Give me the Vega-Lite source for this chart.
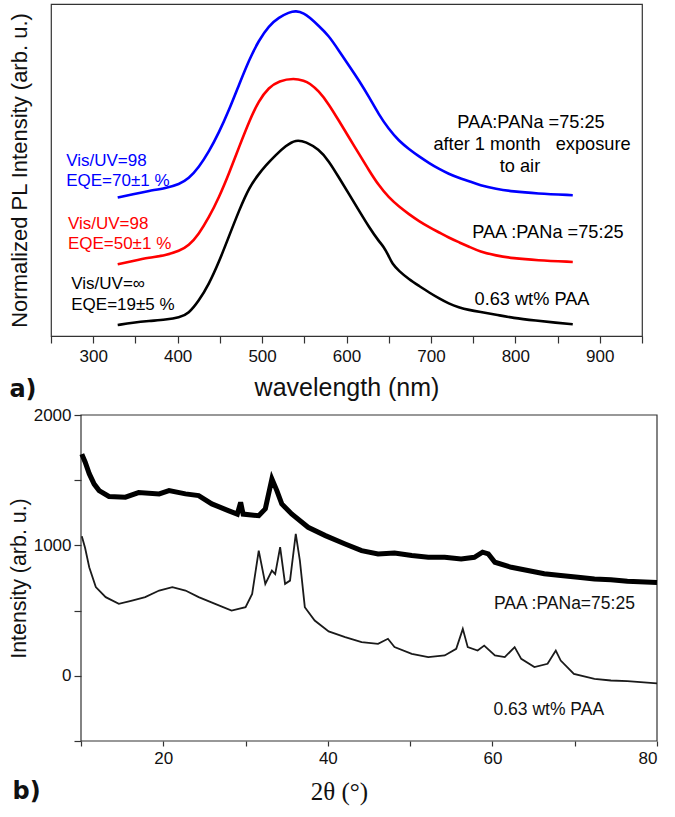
{
  "$schema": "https://vega.github.io/schema/vega-lite/v6.json",
  "padding": {"left": 7, "top": 3, "right": 5, "bottom": 5},
  "spacing": 3,
  "columns": 1,
  "config": {
    "font": "Liberation Sans",
    "view": {"stroke": null},
    "axis": {"grid": false, "domain": false, "tickColor": "#333333", "tickWidth": 1.2, "labelColor": "#111111", "titleColor": "#111111", "labelFont": "Liberation Sans", "titleFont": "Liberation Sans", "titleFontWeight": "normal", "labelFontSize": 17}
  },
  "datasets": {
    "pl": [
      {"wl": 329, "I": 415, "s": "blue"}, {"wl": 347, "I": 425, "s": "blue"}, {"wl": 366, "I": 435, "s": "blue"}, {"wl": 386, "I": 443, "s": "blue"}, {"wl": 402, "I": 455, "s": "blue"}, {"wl": 413, "I": 471, "s": "blue"}, {"wl": 425, "I": 505, "s": "blue"}, {"wl": 437, "I": 552, "s": "blue"}, {"wl": 449, "I": 610, "s": "blue"}, {"wl": 461, "I": 678, "s": "blue"}, {"wl": 473, "I": 755, "s": "blue"}, {"wl": 485, "I": 830, "s": "blue"}, {"wl": 496, "I": 885, "s": "blue"}, {"wl": 508, "I": 930, "s": "blue"}, {"wl": 520, "I": 955, "s": "blue"}, {"wl": 532, "I": 970, "s": "blue"}, {"wl": 540, "I": 975, "s": "blue"}, {"wl": 550, "I": 967, "s": "blue"}, {"wl": 556, "I": 955, "s": "blue"}, {"wl": 567, "I": 930, "s": "blue"}, {"wl": 579, "I": 900, "s": "blue"}, {"wl": 591, "I": 855, "s": "blue"}, {"wl": 603, "I": 810, "s": "blue"}, {"wl": 615, "I": 765, "s": "blue"}, {"wl": 627, "I": 715, "s": "blue"}, {"wl": 638, "I": 665, "s": "blue"}, {"wl": 650, "I": 620, "s": "blue"}, {"wl": 662, "I": 585, "s": "blue"}, {"wl": 674, "I": 560, "s": "blue"}, {"wl": 686, "I": 538, "s": "blue"}, {"wl": 698, "I": 518, "s": "blue"}, {"wl": 710, "I": 500, "s": "blue"}, {"wl": 721, "I": 486, "s": "blue"}, {"wl": 733, "I": 474, "s": "blue"}, {"wl": 745, "I": 464, "s": "blue"}, {"wl": 758, "I": 452, "s": "blue"}, {"wl": 777, "I": 441, "s": "blue"}, {"wl": 797, "I": 433, "s": "blue"}, {"wl": 825, "I": 427, "s": "blue"}, {"wl": 868, "I": 422, "s": "blue"},
      {"wl": 329, "I": 215, "s": "red"}, {"wl": 347, "I": 225, "s": "red"}, {"wl": 366, "I": 235, "s": "red"}, {"wl": 386, "I": 242, "s": "red"}, {"wl": 402, "I": 255, "s": "red"}, {"wl": 413, "I": 270, "s": "red"}, {"wl": 425, "I": 305, "s": "red"}, {"wl": 437, "I": 355, "s": "red"}, {"wl": 449, "I": 415, "s": "red"}, {"wl": 461, "I": 488, "s": "red"}, {"wl": 473, "I": 568, "s": "red"}, {"wl": 485, "I": 645, "s": "red"}, {"wl": 496, "I": 705, "s": "red"}, {"wl": 508, "I": 745, "s": "red"}, {"wl": 520, "I": 765, "s": "red"}, {"wl": 538, "I": 773, "s": "red"}, {"wl": 550, "I": 765, "s": "red"}, {"wl": 556, "I": 758, "s": "red"}, {"wl": 567, "I": 735, "s": "red"}, {"wl": 579, "I": 695, "s": "red"}, {"wl": 591, "I": 645, "s": "red"}, {"wl": 603, "I": 595, "s": "red"}, {"wl": 615, "I": 545, "s": "red"}, {"wl": 627, "I": 495, "s": "red"}, {"wl": 638, "I": 452, "s": "red"}, {"wl": 650, "I": 415, "s": "red"}, {"wl": 662, "I": 388, "s": "red"}, {"wl": 674, "I": 365, "s": "red"}, {"wl": 686, "I": 344, "s": "red"}, {"wl": 698, "I": 326, "s": "red"}, {"wl": 710, "I": 310, "s": "red"}, {"wl": 721, "I": 295, "s": "red"}, {"wl": 733, "I": 281, "s": "red"}, {"wl": 745, "I": 268, "s": "red"}, {"wl": 758, "I": 253, "s": "red"}, {"wl": 777, "I": 241, "s": "red"}, {"wl": 797, "I": 233, "s": "red"}, {"wl": 825, "I": 227, "s": "red"}, {"wl": 868, "I": 222, "s": "red"},
      {"wl": 329, "I": 33, "s": "black"}, {"wl": 347, "I": 40, "s": "black"}, {"wl": 366, "I": 45, "s": "black"}, {"wl": 386, "I": 49, "s": "black"}, {"wl": 402, "I": 55, "s": "black"}, {"wl": 413, "I": 67, "s": "black"}, {"wl": 425, "I": 105, "s": "black"}, {"wl": 437, "I": 155, "s": "black"}, {"wl": 449, "I": 222, "s": "black"}, {"wl": 461, "I": 300, "s": "black"}, {"wl": 473, "I": 378, "s": "black"}, {"wl": 485, "I": 447, "s": "black"}, {"wl": 496, "I": 485, "s": "black"}, {"wl": 504, "I": 510, "s": "black"}, {"wl": 516, "I": 542, "s": "black"}, {"wl": 528, "I": 570, "s": "black"}, {"wl": 540, "I": 589, "s": "black"}, {"wl": 552, "I": 582, "s": "black"}, {"wl": 567, "I": 560, "s": "black"}, {"wl": 579, "I": 525, "s": "black"}, {"wl": 591, "I": 475, "s": "black"}, {"wl": 603, "I": 425, "s": "black"}, {"wl": 615, "I": 375, "s": "black"}, {"wl": 627, "I": 325, "s": "black"}, {"wl": 638, "I": 285, "s": "black"}, {"wl": 644, "I": 268, "s": "black"}, {"wl": 650, "I": 240, "s": "black"}, {"wl": 654, "I": 217, "s": "black"}, {"wl": 662, "I": 195, "s": "black"}, {"wl": 674, "I": 170, "s": "black"}, {"wl": 686, "I": 150, "s": "black"}, {"wl": 698, "I": 130, "s": "black"}, {"wl": 710, "I": 112, "s": "black"}, {"wl": 721, "I": 97, "s": "black"}, {"wl": 733, "I": 86, "s": "black"}, {"wl": 745, "I": 78, "s": "black"}, {"wl": 758, "I": 72, "s": "black"}, {"wl": 777, "I": 64, "s": "black"}, {"wl": 797, "I": 54, "s": "black"}, {"wl": 825, "I": 46, "s": "black"}, {"wl": 848, "I": 40, "s": "black"}, {"wl": 868, "I": 35, "s": "black"}
    ],
    "plLeft": [
      {"wl": 268, "I": 525, "label": "Vis/UV=98", "s": "blue"},
      {"wl": 268, "I": 465, "label": "EQE=70±1 %", "s": "blue"},
      {"wl": 270, "I": 336, "label": "Vis/UV=98", "s": "red"},
      {"wl": 270, "I": 276, "label": "EQE=50±1 %", "s": "red"},
      {"wl": 274, "I": 156, "label": "Vis/UV=∞", "s": "black"},
      {"wl": 274, "I": 93, "label": "EQE=19±5 %", "s": "black"}
    ],
    "plRight": [
      {"wl": 818.5, "I": 639, "label": "PAA:PANa =75:25", "s": "black"},
      {"wl": 819.7, "I": 573, "label": "after 1 month\u00a0\u00a0 exposure", "s": "black"},
      {"wl": 805.5, "I": 507, "label": "to air", "s": "black"},
      {"wl": 838.6, "I": 309, "label": "PAA :PANa =75:25", "s": "black"},
      {"wl": 819.7, "I": 108, "label": "0.63 wt% PAA", "s": "black"}
    ],
    "panelA": [{"wl": 216.8, "I": -162, "label": "a)"}],
    "xrdFrame": [
      {"t": 10, "I": -500, "k": 0}, {"t": 10, "I": 2000, "k": 1}, {"t": 80, "I": 2000, "k": 2}, {"t": 80, "I": -500, "k": 3}, {"t": 10, "I": -500, "k": 4}
    ],
    "xrd": [
      {"t": 10.1, "I": 1700, "s": "upper"}, {"t": 10.5, "I": 1640, "s": "upper"}, {"t": 11, "I": 1550, "s": "upper"}, {"t": 11.6, "I": 1470, "s": "upper"}, {"t": 12.2, "I": 1420, "s": "upper"}, {"t": 13.4, "I": 1375, "s": "upper"}, {"t": 15.4, "I": 1370, "s": "upper"}, {"t": 17, "I": 1405, "s": "upper"}, {"t": 19.5, "I": 1395, "s": "upper"}, {"t": 20.7, "I": 1420, "s": "upper"}, {"t": 22.7, "I": 1395, "s": "upper"}, {"t": 24.3, "I": 1382, "s": "upper"}, {"t": 25.9, "I": 1318, "s": "upper"}, {"t": 27.9, "I": 1267, "s": "upper"}, {"t": 29, "I": 1240, "s": "upper"}, {"t": 29.4, "I": 1330, "s": "upper"}, {"t": 29.7, "I": 1240, "s": "upper"}, {"t": 31.6, "I": 1228, "s": "upper"}, {"t": 32.4, "I": 1280, "s": "upper"}, {"t": 33.2, "I": 1510, "s": "upper"}, {"t": 33.8, "I": 1420, "s": "upper"}, {"t": 34.4, "I": 1318, "s": "upper"}, {"t": 35.6, "I": 1241, "s": "upper"}, {"t": 37.6, "I": 1139, "s": "upper"}, {"t": 39.7, "I": 1075, "s": "upper"}, {"t": 42.1, "I": 1011, "s": "upper"}, {"t": 44.1, "I": 960, "s": "upper"}, {"t": 46.1, "I": 935, "s": "upper"}, {"t": 48.1, "I": 942, "s": "upper"}, {"t": 50.2, "I": 922, "s": "upper"}, {"t": 52.2, "I": 909, "s": "upper"}, {"t": 54.2, "I": 909, "s": "upper"}, {"t": 56.2, "I": 896, "s": "upper"}, {"t": 57.8, "I": 909, "s": "upper"}, {"t": 58.8, "I": 948, "s": "upper"}, {"t": 59.5, "I": 935, "s": "upper"}, {"t": 60.3, "I": 871, "s": "upper"}, {"t": 62.3, "I": 832, "s": "upper"}, {"t": 64.3, "I": 807, "s": "upper"}, {"t": 66.3, "I": 782, "s": "upper"}, {"t": 68.3, "I": 769, "s": "upper"}, {"t": 70.4, "I": 756, "s": "upper"}, {"t": 72.4, "I": 743, "s": "upper"}, {"t": 74.4, "I": 736, "s": "upper"}, {"t": 76.4, "I": 725, "s": "upper"}, {"t": 80, "I": 715, "s": "upper"},
      {"t": 10.1, "I": 1070, "s": "lower"}, {"t": 10.5, "I": 980, "s": "lower"}, {"t": 11, "I": 833, "s": "lower"}, {"t": 11.8, "I": 680, "s": "lower"}, {"t": 13, "I": 603, "s": "lower"}, {"t": 14.6, "I": 552, "s": "lower"}, {"t": 16.2, "I": 577, "s": "lower"}, {"t": 17.8, "I": 603, "s": "lower"}, {"t": 19.5, "I": 654, "s": "lower"}, {"t": 21.1, "I": 680, "s": "lower"}, {"t": 22.7, "I": 654, "s": "lower"}, {"t": 24.3, "I": 603, "s": "lower"}, {"t": 26.3, "I": 552, "s": "lower"}, {"t": 28.3, "I": 500, "s": "lower"}, {"t": 30, "I": 526, "s": "lower"}, {"t": 30.8, "I": 628, "s": "lower"}, {"t": 31.6, "I": 960, "s": "lower"}, {"t": 32.4, "I": 705, "s": "lower"}, {"t": 33.2, "I": 807, "s": "lower"}, {"t": 33.6, "I": 780, "s": "lower"}, {"t": 34.2, "I": 986, "s": "lower"}, {"t": 34.8, "I": 705, "s": "lower"}, {"t": 35.4, "I": 730, "s": "lower"}, {"t": 36.1, "I": 1088, "s": "lower"}, {"t": 36.6, "I": 883, "s": "lower"}, {"t": 37.2, "I": 526, "s": "lower"}, {"t": 38.4, "I": 424, "s": "lower"}, {"t": 40.1, "I": 340, "s": "lower"}, {"t": 42.1, "I": 297, "s": "lower"}, {"t": 44.1, "I": 258, "s": "lower"}, {"t": 46.1, "I": 245, "s": "lower"}, {"t": 47.3, "I": 284, "s": "lower"}, {"t": 48.1, "I": 220, "s": "lower"}, {"t": 50.2, "I": 169, "s": "lower"}, {"t": 52.2, "I": 143, "s": "lower"}, {"t": 54.2, "I": 156, "s": "lower"}, {"t": 55.6, "I": 207, "s": "lower"}, {"t": 56.4, "I": 360, "s": "lower"}, {"t": 57, "I": 220, "s": "lower"}, {"t": 58.2, "I": 194, "s": "lower"}, {"t": 59, "I": 232, "s": "lower"}, {"t": 60.3, "I": 156, "s": "lower"}, {"t": 61.5, "I": 143, "s": "lower"}, {"t": 62.7, "I": 220, "s": "lower"}, {"t": 63.5, "I": 130, "s": "lower"}, {"t": 65.1, "I": 67, "s": "lower"}, {"t": 66.7, "I": 92, "s": "lower"}, {"t": 67.7, "I": 194, "s": "lower"}, {"t": 68.3, "I": 117, "s": "lower"}, {"t": 69.9, "I": 15, "s": "lower"}, {"t": 72.4, "I": -23, "s": "lower"}, {"t": 74.4, "I": -36, "s": "lower"}, {"t": 76.4, "I": -41, "s": "lower"}, {"t": 80, "I": -58, "s": "lower"}
    ],
    "xrdNotes": [
      {"t": 68.75, "I": 552, "label": "PAA :PANa=75:25"},
      {"t": 66.85, "I": -266, "label": "0.63 wt% PAA"}
    ],
    "panelB": [{"t": 3.4, "I": -890, "label": "b)"}]
  },
  "concat": [
    {
      "width": 591,
      "height": 332,
      "view": {"stroke": "#333333", "strokeWidth": 1.2},
      "encoding": {
        "x": {"field": "wl", "type": "quantitative", "scale": {"domain": [250, 950], "nice": false, "zero": false},
          "axis": {"values": [250, 300, 350, 400, 450, 500, 550, 600, 650, 700, 750, 800, 850, 900, 950], "labelExpr": "datum.value % 100 == 0 && datum.value >= 300 && datum.value <= 900 ? datum.label : ''", "title": "wavelength (nm)", "titleFontSize": 25, "tickSize": 7, "labelPadding": 5, "titlePadding": 11}},
        "y": {"field": "I", "type": "quantitative", "scale": {"domain": [0, 995], "nice": false, "zero": false},
          "axis": {"labels": false, "ticks": false, "title": "Normalized PL Intensity (arb. u.)", "titleFontSize": 22, "titlePadding": 20}}
      },
      "layer": [
        {
          "data": {"name": "pl"},
          "mark": {"type": "line", "strokeWidth": 2.6, "interpolate": "basis"},
          "encoding": {
            "color": {"field": "s", "type": "nominal", "scale": {"domain": ["blue", "red", "black"], "range": ["#0000ff", "#ff0000", "#000000"]}, "legend": null},
            "detail": {"field": "s"}
          }
        },
        {
          "data": {"name": "plLeft"},
          "mark": {"type": "text", "align": "left", "baseline": "middle", "fontSize": 17},
          "encoding": {
            "text": {"field": "label"},
            "color": {"field": "s", "type": "nominal", "legend": null}
          }
        },
        {
          "data": {"name": "plRight"},
          "mark": {"type": "text", "align": "center", "baseline": "middle", "fontSize": 18.2},
          "encoding": {
            "text": {"field": "label"},
            "color": {"field": "s", "type": "nominal", "legend": null}
          }
        },
        {
          "data": {"name": "panelA"},
          "mark": {"type": "text", "align": "center", "baseline": "middle", "font": "DejaVu Sans", "fontSize": 24, "fontWeight": "bold", "color": "#111111"},
          "encoding": {"text": {"field": "label"}}
        }
      ]
    },
    {
      "width": 606,
      "height": 326,
      "encoding": {
        "x": {"field": "t", "type": "quantitative", "scale": {"domain": [6.354, 80], "nice": false, "zero": false},
          "axis": {"values": [10, 20, 30, 40, 50, 60, 70, 80], "labelExpr": "datum.value % 20 == 0 ? datum.label : ''", "title": "2θ (°)", "titleFont": "Liberation Serif", "titleFontSize": 25, "titleX": 288, "tickSize": 5, "labelPadding": 4, "titlePadding": 13}},
        "y": {"field": "I", "type": "quantitative", "scale": {"domain": [-500, 2000], "nice": false, "zero": false},
          "axis": {"values": [-500, 0, 500, 1000, 1500, 2000], "format": "d", "labelExpr": "datum.value % 1000 == 0 ? datum.label : ''", "title": "Intensity (arb. u.)", "titleFontSize": 21.4, "tickSize": 7, "labelPadding": 3, "titlePadding": 4, "offset": -30}}
      },
      "layer": [
        {
          "data": {"name": "xrdFrame"},
          "mark": {"type": "line", "strokeWidth": 1.2, "color": "#333333", "strokeCap": "square", "strokeJoin": "miter"},
          "encoding": {"order": {"field": "k", "type": "quantitative"}}
        },
        {
          "data": {"name": "xrd"},
          "transform": [{"filter": "datum.s == 'upper'"}],
          "mark": {"type": "line", "strokeWidth": 5, "color": "#000000"},
          "encoding": {}
        },
        {
          "data": {"name": "xrd"},
          "transform": [{"filter": "datum.s == 'lower'"}],
          "mark": {"type": "line", "strokeWidth": 1.8, "color": "#1a1a1a"},
          "encoding": {}
        },
        {
          "data": {"name": "xrdNotes"},
          "mark": {"type": "text", "align": "center", "baseline": "middle", "fontSize": 17.5, "color": "#111111"},
          "encoding": {"text": {"field": "label"}}
        },
        {
          "data": {"name": "panelB"},
          "mark": {"type": "text", "align": "center", "baseline": "middle", "font": "DejaVu Sans", "fontSize": 24, "fontWeight": "bold", "color": "#111111"},
          "encoding": {"text": {"field": "label"}}
        }
      ]
    }
  ]
}
